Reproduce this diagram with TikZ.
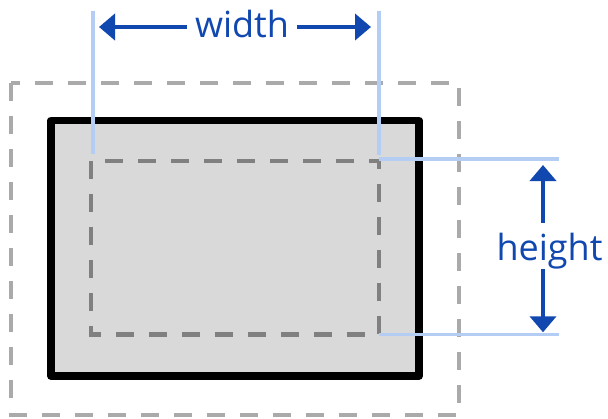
\documentclass[tikz,border=0pt]{standalone}
\usepackage{fontspec}
\setmainfont{Open Sans}
\usetikzlibrary{arrows.meta}
\definecolor{dimblue}{RGB}{16,72,176}
\definecolor{guideblue}{RGB}{180,205,245}
\definecolor{boxfill}{RGB}{217,217,217}
\definecolor{outerdash}{RGB}{170,170,170}
\definecolor{innerdash}{RGB}{128,128,128}
\tikzset{
  outerbox/.style={draw=outerdash, line width=4.5pt, dash pattern=on 18pt off 15pt},
  innerbox/.style={draw=innerdash, line width=4.5pt, dash pattern=on 18pt off 15pt},
  mainbox/.style={draw=black, fill=boxfill, line width=7.5pt, line join=round},
  guide/.style={draw=guideblue, line width=3.5pt},
  dimline/.style={draw=dimblue, line width=4pt, -{Triangle[length=16pt,width=26pt]}},
  dimlabel/.style={text=dimblue, font=\fontsize{36}{40}\selectfont, inner sep=0pt}
}
\begin{document}
\begin{tikzpicture}[x=1pt,y=-1pt]
  \useasboundingbox (0,0) rectangle (608,418);
  % margin box, content box and padding box
  \draw[outerbox] (11,83) rectangle (459,415);
  \draw[mainbox] (51,120.5) rectangle (419,376);
  \draw[innerbox] (91,161) rectangle (379,334.3);
  % extension lines
  \coordinate (wl0) at (93,11);
  \coordinate (wl1) at (93,154);
  \coordinate (wr0) at (379,11);
  \coordinate (wr1) at (379,155);
  \coordinate (ht0) at (379,159);
  \coordinate (ht1) at (559,159);
  \coordinate (hb0) at (379,334.3);
  \coordinate (hb1) at (559,334.3);
  \draw[guide] (wl0) -- (wl1);
  \draw[guide] (wr0) -- (wr1);
  \draw[guide] (ht0) -- (ht1);
  \draw[guide] (hb0) -- (hb1);
  % dimension labels
  \node[dimlabel, anchor=base] (w) at (242,37) {width};
  \node[dimlabel, anchor=base] (h) at (549.5,260) {height};
  % dimension arrows
  \coordinate (wa) at (99,27);
  \coordinate (wb) at (371,27);
  \coordinate (ha) at (543,165);
  \coordinate (hb) at (543,332.3);
  \draw[dimline] (w.west |- wa) ++(-8,0) -- (wa);
  \draw[dimline] (w.east |- wb) ++(8,0) -- (wb);
  \draw[dimline] (ha |- 0,222.7) -- (ha);
  \draw[dimline] (hb |- 0,269) -- (hb);
\end{tikzpicture}
\end{document}
